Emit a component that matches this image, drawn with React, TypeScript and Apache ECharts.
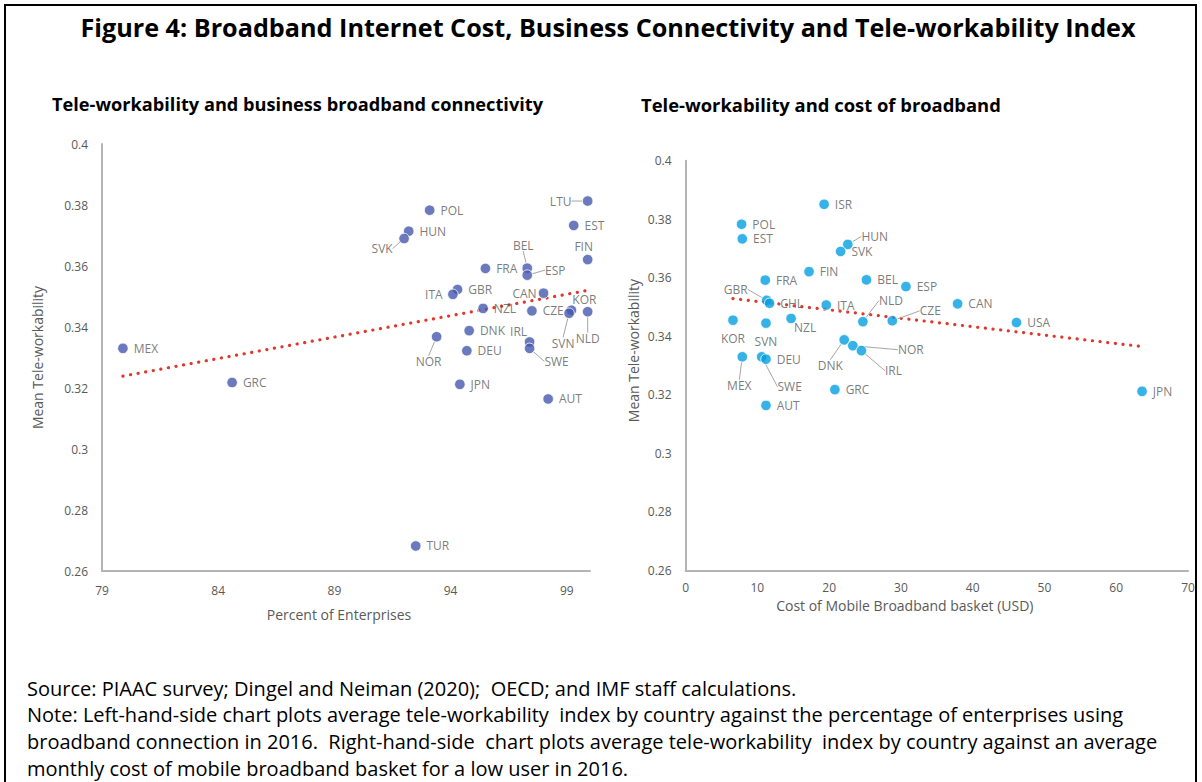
import React, { useEffect, useRef } from 'react';
import * as echarts from 'echarts';

// Left panel: share of enterprises with broadband vs mean tele-workability
const leftCountries = ['MEX', 'GRC', 'TUR', 'POL', 'HUN', 'SVK', 'FRA', 'BEL', 'ESP', 'GBR', 'ITA', 'CAN', 'NZL', 'CZE', 'KOR', 'SVN', 'NLD', 'DNK', 'NOR', 'IRL', 'SWE', 'DEU', 'JPN', 'AUT', 'LTU', 'EST', 'FIN'];
const leftBroadbandPct = [79.9, 84.6, 92.5, 93.1, 92.2, 92.0, 95.5, 97.3, 97.3, 94.3, 94.1, 98.0, 95.4, 97.5, 99.2, 99.1, 99.9, 94.8, 93.4, 97.4, 97.4, 94.7, 94.4, 98.2, 99.9, 99.3, 99.9];
const leftTeleworkability = [0.333, 0.3218, 0.2682, 0.3783, 0.3714, 0.369, 0.3592, 0.3593, 0.357, 0.3523, 0.3507, 0.3511, 0.3461, 0.3453, 0.3455, 0.3445, 0.345, 0.3388, 0.3368, 0.3351, 0.333, 0.3322, 0.3212, 0.3164, 0.3813, 0.3733, 0.3621];

// Right panel: monthly cost of mobile broadband basket vs mean tele-workability
const rightCountries = ['ISR', 'POL', 'EST', 'HUN', 'SVK', 'FIN', 'FRA', 'BEL', 'ESP', 'GBR', 'CHL', 'ITA', 'NLD', 'CZE', 'CAN', 'USA', 'JPN', 'KOR', 'SVN', 'NZL', 'DNK', 'NOR', 'IRL', 'MEX', 'SWE', 'DEU', 'GRC', 'AUT'];
const rightMobileCost = [19.3, 7.8, 7.9, 22.6, 21.6, 17.2, 11.1, 25.2, 30.7, 11.3, 11.7, 19.6, 24.7, 28.8, 37.9, 46.1, 63.6, 6.6, 11.2, 14.7, 22.1, 23.3, 24.5, 7.9, 10.6, 11.2, 20.8, 11.2];
const rightTeleworkability = [0.3851, 0.3783, 0.3733, 0.3714, 0.369, 0.3621, 0.3592, 0.3593, 0.357, 0.3523, 0.3513, 0.3507, 0.345, 0.3453, 0.3511, 0.3447, 0.3212, 0.3455, 0.3445, 0.3461, 0.3388, 0.3368, 0.3351, 0.333, 0.333, 0.3322, 0.3218, 0.3164];

// Linear trend end points
const leftTrendPct = [79.9, 99.9];
const leftTrendTele = [0.3239, 0.352];
const rightTrendCost = [6.6, 63.6];
const rightTrendTele = [0.3529, 0.3365];

// Tick labels
const leftXTicks = [79, 84, 89, 94, 99];
const rightXTicks = [0, 10, 20, 30, 40, 50, 60, 70];
const yTicks = [0.26, 0.28, 0.3, 0.32, 0.34, 0.36, 0.38, 0.4];

const TITLE = 'Figure 4: Broadband Internet Cost, Business Connectivity and Tele-workability Index';
const LEFT_SUBTITLE = 'Tele-workability and business broadband connectivity';
const RIGHT_SUBTITLE = 'Tele-workability and cost of broadband';
const FOOTNOTES = [
  'Source: PIAAC survey; Dingel and Neiman (2020);  OECD; and IMF staff calculations.',
  'Note: Left-hand-side chart plots average tele-workability  index by country against the percentage of enterprises using',
  'broadband connection in 2016.  Right-hand-side  chart plots average tele-workability  index by country against an average',
  'monthly cost of mobile broadband basket for a low user in 2016.',
];

// Label placement: offset (px) of the label centre from the marker centre
const leftLabelOffsets: Record<string, [number, number]> = {
  SVK: [-22, 10], BEL: [-4, -23], ESP: [28, -5], ITA: [-19, 0], CAN: [-19, 0],
  KOR: [13, -11], SVN: [-6, 30], NLD: [0, 27], LTU: [-27, 0], FIN: [-4, -13],
  NOR: [-8, 25], IRL: [-11, -10], SWE: [27, 13],
};
const leftLeaders = ['SVK', 'BEL', 'ESP', 'LTU', 'SVN', 'NLD', 'NOR', 'SWE'];
const rightLabelOffsets: Record<string, [number, number]> = {
  HUN: [27, -8], GBR: [-31, -11], NLD: [28, -21], CZE: [38, -10], KOR: [0, 18],
  SVN: [0, 18], NZL: [14, 9], DNK: [-14, 26], NOR: [58, 4], IRL: [32, 20],
  MEX: [-3, 29], SWE: [28, 30],
};
const rightLeaders = ['HUN', 'GBR', 'NLD', 'CZE', 'DNK', 'NOR', 'IRL', 'MEX', 'SWE'];

const FONT = "'Open Sans', 'Noto Sans', sans-serif";
const GREY_TEXT = '#595959';
const AXIS_LINE = '#B4B4B4';
const LEFT_DOT = '#4657AC';
const RIGHT_DOT = '#049FE0';
const TREND = '#E0382C';

function scatterData(names: string[], xs: number[], ys: number[], leaders: string[]) {
  return names.map((name, i) => ({
    name,
    value: [xs[i], ys[i]],
    labelLine: { show: leaders.includes(name) },
  }));
}

function makeLabelLayout(names: string[], offsets: Record<string, [number, number]>) {
  return (params: any) => {
    const off = offsets[names[params.dataIndex]];
    if (!off) return {};
    const cx = params.rect.x + params.rect.width / 2;
    const cy = params.rect.y + params.rect.height / 2;
    return { x: cx + off[0], y: cy + off[1], align: 'center', verticalAlign: 'middle' };
  };
}

function yAxis(gridIndex: number, nameGap: number, namePadding: number[]) {
  return {
    type: 'value',
    gridIndex,
    min: 0.26,
    max: 0.4,
    name: 'Mean Tele-workability',
    nameLocation: 'middle',
    nameGap,
    nameTextStyle: { color: GREY_TEXT, fontSize: 14, fontFamily: FONT, padding: namePadding },
    axisLine: { show: true, lineStyle: { color: AXIS_LINE, width: 2 } },
    axisTick: { show: false },
    splitLine: { show: false },
    axisLabel: {
      color: GREY_TEXT, fontSize: 12, fontFamily: FONT, margin: 14,
      customValues: yTicks,
    },
  };
}

export default function App() {
  const ref = useRef<HTMLDivElement>(null);

  useEffect(() => {
    document.body.style.margin = '0';
    const chart = echarts.init(ref.current!, undefined, { renderer: 'svg' });

    const labelBase = {
      show: true,
      position: 'right',
      distance: 5,
      formatter: '{b}',
      color: GREY_TEXT,
      fontSize: 12,
      fontFamily: FONT,
    };
    const labelLineBase = { show: false, lineStyle: { color: '#A6A6A6', width: 1 } };

    const graphic: any[] = [
      {
        type: 'rect',
        shape: { x: 5, y: 5, width: 1191, height: 800 },
        style: { fill: 'none', stroke: '#000', lineWidth: 2 },
        silent: true,
      },
      {
        type: 'text', x: 608, y: 27,
        style: { text: TITLE, fill: '#000', fontSize: 25.2, fontWeight: 'bold', fontFamily: FONT, align: 'center', verticalAlign: 'middle' },
      },
      {
        type: 'text', x: 52, y: 104,
        style: { text: LEFT_SUBTITLE, fill: '#000', fontSize: 18.2, fontWeight: 'bold', fontFamily: FONT, align: 'left', verticalAlign: 'middle' },
      },
      {
        type: 'text', x: 641, y: 104,
        style: { text: RIGHT_SUBTITLE, fill: '#000', fontSize: 18.4, fontWeight: 'bold', fontFamily: FONT, align: 'left', verticalAlign: 'middle' },
      },
      ...FOOTNOTES.map((line, i) => ({
        type: 'text', x: 27, y: 688 + i * 26.8,
        style: { text: line, fill: '#000', fontSize: 20, lineHeight: 22, fontFamily: FONT, align: 'left', verticalAlign: 'middle' },
      })),
    ];

    chart.setOption({
      animation: false,
      backgroundColor: '#fff',
      graphic,
      grid: [
        { left: 102, top: 144, width: 488, height: 427, containLabel: false, outerBoundsMode: 'none' },
        { left: 685.6, top: 160.7, width: 502.4, height: 409.8, containLabel: false, outerBoundsMode: 'none' },
      ],
      xAxis: [
        {
          type: 'value', gridIndex: 0, min: 79, max: 100,
          name: 'Percent of Enterprises', nameLocation: 'middle', nameGap: 36,
          nameTextStyle: { color: GREY_TEXT, fontSize: 14, fontFamily: FONT, padding: [0, 14, 0, 0] },
          axisLine: { show: true, lineStyle: { color: AXIS_LINE, width: 2 } },
          axisTick: { show: false }, splitLine: { show: false },
          axisLabel: { color: GREY_TEXT, fontSize: 12, fontFamily: FONT, margin: 13, customValues: leftXTicks },
        },
        {
          type: 'value', gridIndex: 1, min: 0, max: 70,
          name: 'Cost of Mobile Broadband basket (USD)', nameLocation: 'middle', nameGap: 26,
          nameTextStyle: { color: GREY_TEXT, fontSize: 14, fontFamily: FONT, padding: [0, 64, 0, 0] },
          axisLine: { show: true, lineStyle: { color: AXIS_LINE, width: 2 } },
          axisTick: { show: false }, splitLine: { show: false },
          axisLabel: { color: GREY_TEXT, fontSize: 12, fontFamily: FONT, margin: 11, customValues: rightXTicks },
        },
      ],
      yAxis: [yAxis(0, 58, [0, 0, 0, 0]), yAxis(1, 45, [0, 0, 0, 30])],
      series: [
        {
          type: 'line', xAxisIndex: 0, yAxisIndex: 0, silent: true,
          data: leftTrendPct.map((x, i) => [x, leftTrendTele[i]]),
          showSymbol: false, symbol: 'none',
          lineStyle: { color: TREND, width: 3.2, type: [0.1, 7.6], cap: 'round' },
          z: 1,
        },
        {
          type: 'line', xAxisIndex: 1, yAxisIndex: 1, silent: true,
          data: rightTrendCost.map((x, i) => [x, rightTrendTele[i]]),
          showSymbol: false, symbol: 'none',
          lineStyle: { color: TREND, width: 3.2, type: [0.1, 7.6], cap: 'round' },
          z: 1,
        },
        {
          type: 'scatter', xAxisIndex: 0, yAxisIndex: 0,
          data: scatterData(leftCountries, leftBroadbandPct, leftTeleworkability, leftLeaders),
          symbol: 'circle', symbolSize: 10.5,
          itemStyle: { color: LEFT_DOT, borderColor: '#fff', borderWidth: 1 },
          label: labelBase,
          labelLine: labelLineBase,
          labelLayout: makeLabelLayout(leftCountries, leftLabelOffsets),
          z: 2,
        },
        {
          type: 'scatter', xAxisIndex: 1, yAxisIndex: 1,
          data: scatterData(rightCountries, rightMobileCost, rightTeleworkability, rightLeaders),
          symbol: 'circle', symbolSize: 10.5,
          itemStyle: { color: RIGHT_DOT, borderColor: '#fff', borderWidth: 1 },
          label: labelBase,
          labelLine: labelLineBase,
          labelLayout: makeLabelLayout(rightCountries, rightLabelOffsets),
          z: 2,
        },
      ],
    });

    return () => chart.dispose();
  }, []);

  return <div ref={ref} style={{ width: 1202, height: 782 }} />;
}
